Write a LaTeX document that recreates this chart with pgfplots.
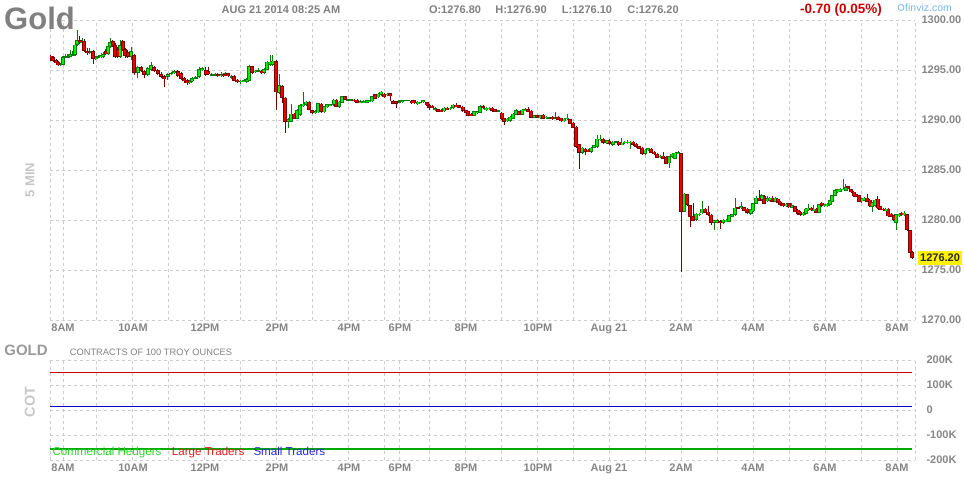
\documentclass[border=0pt]{standalone}
\usepackage{pgfplots}
\pgfplotsset{compat=1.18}
\usepackage{pgfplotstable}
\usepackage{fontspec}
\setmainfont{Liberation Sans}

\definecolor{gridc}{HTML}{CCCCCC}
\definecolor{labc}{HTML}{868686}
\definecolor{upfill}{HTML}{00EE00}
\definecolor{upline}{HTML}{0A7A0A}
\definecolor{dnfill}{HTML}{EE0000}
\definecolor{dnline}{HTML}{780000}
\definecolor{cotred}{HTML}{CC0000}
\definecolor{cotblue}{HTML}{0000CC}
\definecolor{cotgreen}{HTML}{00AA00}

% 5-minute candles, x = horizontal position on the chart
\pgfplotstableread{
x o h l c
50.7 1296.45 1296.55 1295.9 1296.2
53.3 1296.3 1296.4 1295.8 1295.9
56 1296.0 1296.1 1295.5 1295.7
58.3 1295.8 1295.9 1295.4 1295.5
60.7 1295.5 1295.7 1295.45 1295.6
62.7 1295.55 1296.4 1295.5 1296.3
65 1296.3 1296.6 1296.2 1296.35
67.7 1296.3 1296.6 1296.2 1296.4
70.3 1296.35 1297.0 1296.3 1296.6
72.7 1296.5 1296.9 1296.4 1296.6
75 1296.5 1297.6 1296.4 1297.55
77.3 1297.5 1299.0 1297.4 1298.0
79.7 1298.0 1298.4 1297.6 1297.8
82 1297.8 1298.2 1297.6 1297.9
84.3 1297.9 1298.1 1296.8 1296.9
87 1296.9 1297.2 1296.5 1296.7
89.3 1296.8 1297.2 1296.6 1296.9
93.3 1296.9 1297.0 1295.6 1296.1
95.7 1296.1 1296.4 1296.0 1296.3
98.3 1296.3 1296.5 1296.2 1296.4
101 1296.3 1296.7 1296.2 1296.5
103.3 1296.3 1296.8 1296.2 1296.6
105.7 1296.9 1297.1 1296.5 1296.6
108 1296.6 1297.5 1296.5 1297.4
110.3 1297.3 1298.2 1297.2 1297.8
112.7 1297.9 1298.0 1297.3 1297.4
115 1297.5 1297.7 1296.2 1296.3
117.7 1297.1 1297.3 1296.2 1296.3
120.3 1296.3 1298.0 1296.2 1297.5
122.7 1297.9 1298.0 1296.9 1297.0
125.3 1297.1 1297.2 1296.2 1296.4
127.7 1296.8 1297.0 1296.2 1296.3
131 1296.3 1297.3 1296.0 1296.9
134.3 1296.5 1296.6 1294.5 1294.7
137.7 1294.7 1295.4 1294.2 1295.3
141 1295.3 1295.4 1294.8 1294.9
144.3 1294.9 1295.0 1294.2 1294.5
147.7 1294.5 1295.3 1294.4 1295.2
151 1295.0 1295.8 1294.9 1295.5
154.3 1295.3 1295.4 1294.8 1294.9
157.7 1295.0 1295.1 1294.5 1294.6
161 1294.6 1294.8 1294.2 1294.3
164.3 1294.4 1294.5 1293.3 1294.1
167.7 1294.3 1294.7 1294.0 1294.6
171 1294.6 1294.8 1294.5 1294.7
174.3 1294.7 1295.0 1294.6 1294.9
177.7 1294.9 1295.0 1294.3 1294.4
181 1294.7 1294.8 1294.0 1294.1
184.3 1294.2 1294.3 1293.7 1293.9
187 1294.0 1294.1 1293.5 1293.7
189.7 1293.7 1294.0 1293.6 1293.9
192.3 1293.9 1294.3 1293.8 1294.2
195.7 1294.2 1294.4 1294.1 1294.3
199 1294.3 1295.3 1294.2 1295.1
202.3 1295.0 1295.3 1294.9 1295.2
205.7 1295.0 1295.3 1294.4 1294.5
208.3 1294.9 1295.3 1294.5 1294.6
211.7 1294.5 1294.7 1294.4 1294.6
215 1294.5 1294.7 1294.4 1294.6
217.7 1294.6 1294.7 1294.3 1294.4
221 1294.4 1294.8 1294.3 1294.6
223.7 1294.6 1294.7 1294.3 1294.4
225 1294.6 1294.8 1294.5 1294.7
228.3 1294.67 1294.7 1294.3 1294.35
231.7 1294.3 1294.5 1294.1 1294.4
234 1294.4 1294.5 1293.9 1293.95
237.3 1294.05 1294.1 1293.7 1293.8
240.7 1293.8 1294.0 1293.65 1293.95
244 1293.85 1294.1 1293.8 1294.0
246.7 1293.8 1294.2 1293.75 1294.1
249.3 1293.95 1295.5 1293.9 1295.4
252.3 1295.4 1295.45 1294.6 1294.75
255 1294.8 1295.0 1294.7 1294.95
258.3 1294.85 1295.2 1294.8 1294.95
261.7 1294.95 1295.0 1294.6 1294.7
264.3 1294.7 1295.2 1294.6 1295.1
267 1295.05 1295.9 1295.0 1295.85
270 1295.5 1296.5 1295.4 1295.85
272.7 1295.5 1296.5 1295.4 1295.95
276 1295.85 1296.0 1291.0 1292.75
279.3 1292.75 1294.6 1292.6 1293.5
282.3 1293.4 1293.5 1291.7 1292.25
285.3 1292.25 1292.3 1288.7 1289.8
288.3 1289.8 1290.2 1289.25 1290.1
291 1289.85 1291.65 1289.8 1290.65
294 1290.65 1290.7 1290.1 1290.15
297 1290.15 1291.1 1290.1 1291.0
300 1290.5 1291.6 1290.4 1291.5
303.3 1291.4 1292.85 1291.3 1291.65
306 1291.5 1291.9 1291.4 1291.85
309.3 1291.85 1291.9 1291.0 1291.05
312.3 1291.0 1291.05 1290.6 1290.7
315.3 1290.7 1291.0 1290.6 1290.9
318.3 1290.75 1291.7 1290.7 1291.65
321 1291.65 1291.7 1290.7 1290.8
324.3 1290.75 1291.4 1290.7 1291.35
327.3 1291.3 1291.65 1291.2 1291.6
330.3 1291.45 1291.65 1291.4 1291.6
333.7 1291.5 1292.1 1291.45 1292.05
336.3 1292.05 1292.1 1291.3 1291.35
339.3 1291.3 1291.9 1291.25 1291.85
342.3 1291.75 1292.45 1291.7 1292.4
345.3 1292.4 1292.45 1292.0 1292.05
348.3 1291.95 1292.1 1291.9 1292.05
351.3 1291.95 1292.1 1291.9 1292.05
354.3 1292.05 1292.1 1291.8 1291.9
357.3 1292.05 1292.1 1291.7 1291.75
360.3 1291.7 1291.95 1291.65 1291.9
363.7 1291.7 1291.95 1291.65 1291.9
366.7 1291.75 1292.05 1291.7 1292.0
369.3 1291.85 1292.05 1291.8 1292.0
372.3 1291.85 1292.4 1291.8 1292.35
375.3 1292.6 1292.65 1292.1 1292.15
378.3 1292.25 1292.7 1292.2 1292.65
381.3 1292.5 1292.9 1292.45 1292.85
384.3 1292.65 1292.7 1292.2 1292.25
387.3 1292.5 1292.7 1292.45 1292.65
390.3 1292.65 1292.7 1291.9 1292.35
393.3 1291.9 1291.95 1291.55 1291.6
396 1291.9 1291.95 1291.2 1291.6
398.7 1291.8 1291.9 1291.75 1291.85
400 1291.85 1292.0 1291.8 1291.95
402.3 1291.8 1292.05 1291.75 1292.0
405 1291.95 1292.05 1291.9 1292.0
408.3 1291.95 1292.05 1291.9 1292.0
411.7 1291.95 1292.0 1291.65 1291.7
414.3 1292.0 1292.05 1291.65 1291.7
417.7 1291.6 1291.9 1291.55 1291.85
420.3 1291.75 1291.85 1291.7 1291.8
423.3 1291.8 1292.05 1291.75 1292.0
426.7 1291.75 1291.8 1291.4 1291.45
429.3 1291.5 1291.55 1291.0 1291.25
432.3 1291.45 1291.5 1291.2 1291.25
435 1291.1 1291.3 1290.9 1291.15
438.3 1291.1 1291.15 1290.8 1290.85
441 1291.05 1291.1 1290.8 1290.85
444.3 1290.85 1291.3 1290.8 1291.25
447.3 1291.25 1291.3 1291.0 1291.05
450.3 1291.1 1291.3 1291.05 1291.25
453.3 1291.2 1291.6 1291.15 1291.55
456.3 1291.55 1291.75 1291.3 1291.35
459.3 1291.5 1291.55 1291.2 1291.25
462.7 1291.35 1291.4 1290.85 1290.9
465.7 1291.0 1291.05 1290.7 1290.75
468.3 1290.9 1290.95 1290.4 1290.45
471.3 1290.65 1290.7 1290.4 1290.45
474.3 1290.45 1290.95 1290.4 1290.9
477.3 1290.7 1290.95 1290.65 1290.9
480.3 1290.7 1291.45 1290.65 1291.4
483.3 1291.4 1291.45 1291.1 1291.15
486.3 1291.0 1291.35 1290.95 1291.25
489.3 1291.1 1291.3 1291.05 1291.25
492.3 1291.25 1291.3 1290.85 1290.9
495.3 1291.1 1291.15 1290.8 1290.85
498.3 1290.85 1291.0 1290.8 1290.95
501.7 1290.75 1290.8 1290.05 1290.1
504.3 1290.2 1290.25 1289.55 1289.8
507.3 1289.9 1290.2 1289.85 1290.15
510.3 1289.9 1290.4 1289.85 1290.35
513.3 1290.15 1290.7 1290.1 1290.65
516.3 1290.55 1291.1 1290.5 1291.0
519.3 1290.9 1290.95 1290.5 1290.55
522.3 1290.55 1291.1 1290.5 1291.05
525.3 1290.9 1291.15 1290.85 1291.1
528.3 1291.1 1291.35 1290.8 1290.85
531.3 1290.95 1291.0 1290.2 1290.25
534.3 1290.25 1290.55 1290.2 1290.5
537.3 1290.5 1290.55 1290.2 1290.25
540.3 1290.2 1290.55 1290.15 1290.5
543.3 1290.55 1290.6 1290.1 1290.15
546.3 1290.2 1290.4 1290.15 1290.35
549.3 1290.2 1290.35 1290.15 1290.3
552.3 1290.35 1290.4 1290.05 1290.1
555.3 1290.2 1290.8 1290.15 1290.3
558.3 1290.35 1290.4 1290.0 1290.05
561.3 1290.2 1290.25 1289.85 1289.9
564.3 1289.9 1290.2 1289.85 1290.15
567.3 1290.1 1290.6 1290.05 1290.25
570 1290.1 1290.15 1289.6 1289.65
573.3 1289.75 1289.8 1289.2 1289.25
576 1289.35 1289.4 1287.2 1287.3
579.3 1287.6 1287.65 1285.15 1286.7
582.3 1286.7 1287.3 1286.6 1287.25
585 1287.15 1287.2 1286.5 1286.85
588.3 1287.05 1287.1 1286.8 1286.85
591 1286.8 1287.3 1286.75 1287.25
594 1287.25 1287.55 1287.2 1287.5
597.3 1287.3 1288.5 1287.25 1288.15
600 1288.0 1288.5 1287.95 1288.15
603.3 1288.15 1288.2 1287.65 1287.7
606.7 1287.65 1288.0 1287.6 1287.95
609.3 1287.95 1288.15 1287.55 1287.6
612.7 1287.5 1287.9 1287.45 1287.85
615.7 1287.8 1287.95 1287.75 1287.9
618.7 1287.85 1287.9 1287.45 1287.5
621.7 1287.5 1288.15 1287.45 1287.75
624.7 1287.7 1287.9 1287.65 1287.85
627.7 1287.7 1288.05 1287.65 1287.85
630.7 1287.7 1287.9 1287.15 1287.85
633.3 1287.85 1287.9 1287.45 1287.5
636.3 1287.65 1287.7 1287.25 1287.3
639.3 1287.4 1287.45 1287.1 1287.15
642.3 1287.25 1287.3 1286.55 1286.6
645.3 1286.6 1287.1 1286.55 1287.05
648.3 1286.95 1287.2 1286.9 1287.15
651.3 1287.15 1287.2 1286.7 1286.75
654.3 1286.85 1286.9 1286.55 1286.6
657.3 1286.65 1286.7 1286.2 1286.25
660.3 1286.3 1286.5 1286.25 1286.45
663.3 1286.45 1286.8 1286.1 1286.15
666.3 1286.3 1286.35 1285.55 1285.6
669.3 1285.65 1286.4 1285.25 1286.35
672.3 1286.3 1286.7 1286.25 1286.65
675.3 1286.15 1286.8 1286.1 1286.75
678.3 1286.6 1286.85 1286.55 1286.8
681.3 1286.7 1286.75 1274.85 1280.85
684.3 1280.85 1282.7 1280.8 1282.65
687.3 1282.6 1282.65 1281.45 1281.5
690.3 1281.5 1281.55 1279.35 1280.3
693.3 1280.4 1281.65 1279.85 1279.9
696.3 1280.0 1280.7 1279.95 1280.65
699.3 1280.5 1280.7 1280.45 1280.65
702.3 1280.65 1281.9 1280.6 1281.15
705.3 1281.15 1281.2 1280.7 1280.75
708.3 1280.85 1281.4 1280.45 1280.5
711.3 1280.55 1280.6 1279.5 1279.7
714.3 1279.7 1280.05 1279.05 1280.0
717.3 1279.7 1280.05 1279.65 1280.0
720.3 1279.9 1279.95 1279.05 1279.7
723.3 1279.7 1280.1 1279.65 1280.05
726.3 1279.85 1280.1 1279.8 1280.05
729.3 1279.85 1280.55 1279.8 1280.5
732.3 1280.35 1280.65 1280.3 1280.6
735.3 1280.5 1282.25 1280.45 1281.25
738.3 1281.25 1281.3 1281.1 1281.15
741.3 1281.15 1281.8 1281.1 1281.35
744.3 1281.3 1281.35 1280.9 1280.95
747.3 1281.15 1281.2 1280.65 1280.7
750.7 1280.6 1281.15 1280.5 1281.1
753.3 1280.85 1281.7 1280.8 1281.65
756 1281.65 1282.4 1281.6 1282.25
759 1282.25 1283.0 1281.9 1281.95
761.7 1282.0 1282.6 1281.95 1282.5
764.3 1282.4 1282.45 1281.55 1281.6
767 1281.85 1282.4 1281.8 1282.15
769.7 1282.0 1282.3 1281.95 1282.25
772.3 1282.25 1282.4 1281.8 1281.85
775 1281.85 1282.3 1281.8 1282.25
777.7 1282.15 1282.2 1281.7 1281.75
780.3 1281.85 1281.9 1281.45 1281.5
783.3 1281.65 1281.7 1281.3 1281.35
786 1281.4 1281.7 1281.35 1281.65
788.7 1281.65 1281.7 1281.2 1281.25
791.7 1281.25 1281.75 1281.2 1281.5
794.7 1281.4 1281.45 1280.8 1280.85
797.7 1281.05 1281.1 1280.55 1280.6
800.3 1280.85 1280.9 1280.45 1280.5
803 1280.5 1280.8 1280.45 1280.75
805.7 1280.6 1281.2 1280.55 1281.15
808.3 1281.0 1281.6 1280.95 1281.25
811 1281.25 1281.3 1280.95 1281.0
813.7 1280.95 1281.5 1280.9 1281.15
816.3 1281.15 1281.2 1280.7 1280.75
819 1280.75 1281.65 1280.7 1281.6
821.7 1281.75 1281.8 1281.35 1281.4
824.3 1281.35 1281.6 1281.3 1281.55
827 1281.4 1281.7 1281.35 1281.65
829.7 1281.5 1282.05 1281.45 1282.0
832.3 1281.85 1282.55 1281.8 1282.5
835 1282.4 1283.05 1282.35 1283.0
837.7 1282.75 1283.1 1282.7 1283.05
840.3 1282.85 1283.2 1282.8 1283.15
843 1283.0 1284.05 1282.95 1283.15
845.7 1282.95 1283.6 1282.9 1283.3
848.3 1283.4 1283.45 1283.1 1283.15
851 1283.05 1283.1 1282.7 1282.75
853.7 1282.85 1282.9 1282.3 1282.35
856.3 1282.6 1282.65 1282.3 1282.35
859 1282.5 1282.55 1281.8 1281.85
861.7 1281.85 1282.2 1281.7 1282.15
864.3 1281.95 1282.3 1281.9 1282.25
867 1282.25 1282.65 1281.8 1281.85
869.7 1282.05 1282.1 1281.3 1281.35
872.3 1281.35 1281.8 1280.85 1281.75
875 1281.4 1282.1 1281.35 1282.05
877.7 1282.15 1282.4 1281.1 1281.15
880.3 1281.4 1281.45 1281.0 1281.05
883 1281.15 1281.2 1280.95 1281.0
885.7 1280.95 1281.2 1280.9 1281.15
888.3 1281.15 1281.25 1280.3 1280.35
891 1280.65 1280.7 1280.3 1280.35
893.7 1280.5 1280.55 1279.95 1280.05
896.3 1279.75 1280.65 1279.0 1280.6
899 1280.4 1280.7 1280.35 1280.65
901.7 1280.75 1280.8 1280.45 1280.5
904.3 1280.5 1280.9 1280.45 1280.75
907 1280.6 1280.65 1278.95 1279.0
909.7 1279.0 1279.05 1276.7 1276.75
912.3 1276.8 1276.9 1276.1 1276.2
}\gold

\pgfplotsset{
  chartgrid/.style={
    scale only axis, width=865pt,
    xmin=50, xmax=915,
    axis line style={draw=none},
    major tick length=0pt,
    xtick={50,63.3,96.7,132.7,168.7,204.7,240.7,276.7,312.7,348.7,384.7,399.7,429.7,465.7,501.7,537.7,573.3,609.3,645.3,681.3,717.3,753.3,789.3,825.3,861.3,897.3,915},
    xticklabels={},
    extra x ticks={63,133,205,277,349,400,466,538,609,681,753,825,897},
    extra x tick labels={8AM,10AM,12PM,2PM,4PM,6PM,8PM,10PM,Aug 21,2AM,4AM,6AM,8AM},
    extra x tick style={grid=none},
    grid=major,
    major grid style={gridc, dash pattern=on 3pt off 3pt, line width=0.8pt},
    tick label style={font=\fontsize{11}{11}\selectfont\bfseries, text=labc},
    yticklabel pos=right,
    yticklabel style={anchor=west, xshift=3pt},
    clip=true,
  },
  candle/.style 2 args={draw=none, mark=none, no markers,
    error bars/y dir=both, error bars/y explicit,
    error bars/error mark=none,
    error bars/error bar style={solid, line width=#2, draw=#1}},
}

\begin{document}
\begin{tikzpicture}
\useasboundingbox (0,0) rectangle (964pt,480pt);

\begin{axis}[chartgrid,
  at={(50pt,160pt)}, anchor=south west, height=300pt,
  ymin=1270, ymax=1300,
  ytick={1270,1275,1280,1285,1290,1295,1300},
  yticklabels={1270.00,1275.00,1280.00,1285.00,1290.00,1295.00,1300.00},
  extra y ticks={1276.2}, extra y tick labels={1276.20},
  extra y tick style={grid=none, yticklabel style={fill=yellow, text=black!85, inner xsep=2pt, inner ysep=3.5pt}},
]
% wicks
\addplot[candle={upline}{1pt}, restrict expr to domain={\thisrow{c}-\thisrow{o}}{0:100}]
  table[x=x, y expr={(\thisrow{h}+\thisrow{l})/2}, y error expr={(\thisrow{h}-\thisrow{l})/2}] {\gold};
\addplot[candle={dnline}{1pt}, restrict expr to domain={\thisrow{c}-\thisrow{o}}{-100:-0.001}]
  table[x=x, y expr={(\thisrow{h}+\thisrow{l})/2}, y error expr={(\thisrow{h}-\thisrow{l})/2}] {\gold};
% bodies: dark edge then bright core
\addplot[candle={upline}{3.8pt}, restrict expr to domain={\thisrow{c}-\thisrow{o}}{0:100}]
  table[x=x, y expr={(\thisrow{o}+\thisrow{c})/2}, y error expr={max(abs(\thisrow{c}-\thisrow{o})/2,0.07)}] {\gold};
\addplot[candle={dnline}{3.8pt}, restrict expr to domain={\thisrow{c}-\thisrow{o}}{-100:-0.001}]
  table[x=x, y expr={(\thisrow{o}+\thisrow{c})/2}, y error expr={max(abs(\thisrow{c}-\thisrow{o})/2,0.07)}] {\gold};
\addplot[candle={upfill}{1.9pt}, restrict expr to domain={\thisrow{c}-\thisrow{o}}{0.15:100}]
  table[x=x, y expr={(\thisrow{o}+\thisrow{c})/2}, y error expr={abs(\thisrow{c}-\thisrow{o})/2-0.08}] {\gold};
\addplot[candle={dnfill}{1.9pt}, restrict expr to domain={\thisrow{c}-\thisrow{o}}{-100:-0.15}]
  table[x=x, y expr={(\thisrow{o}+\thisrow{c})/2}, y error expr={abs(\thisrow{c}-\thisrow{o})/2-0.08}] {\gold};
\end{axis}

\begin{axis}[chartgrid,
  at={(50pt,20pt)}, anchor=south west, height=100pt,
  ymin=-200000, ymax=200000,
  ytick={-200000,-100000,0,100000,200000},
  yticklabels={-200K,-100K,0,100K,200K},
  scaled y ticks=false,
  yticklabel style={xshift=5pt},
]
\addplot[cotred, line width=1.1pt] coordinates {(50,150800) (912,150800)};
\addplot[cotblue, line width=1.1pt] coordinates {(50,14800) (912,14800)};
\addplot[cotgreen, line width=1.1pt] coordinates {(50,-156000) (912,-156000)};
\end{axis}

% header texts
\node[anchor=base west, inner sep=0, font=\fontsize{31}{31}\selectfont\bfseries, text=black!50] at (4pt,450pt) {Gold};
\node[inner sep=0, font=\fontsize{11}{11}\selectfont\bfseries, text=black!50] at (281pt,470.3pt) {AUG 21 2014 08:25 AM};
\node[inner sep=0, font=\fontsize{11}{11}\selectfont\bfseries, text=black!50] at (455pt,470.3pt) {O:1276.80};
\node[inner sep=0, font=\fontsize{11}{11}\selectfont\bfseries, text=black!50] at (521pt,470.3pt) {H:1276.90};
\node[inner sep=0, font=\fontsize{11}{11}\selectfont\bfseries, text=black!50] at (587pt,470.3pt) {L:1276.10};
\node[inner sep=0, font=\fontsize{11}{11}\selectfont\bfseries, text=black!50] at (653pt,470.3pt) {C:1276.20};
\node[inner sep=0, font=\fontsize{13.5}{13.5}\selectfont\bfseries, text=cotred] at (841pt,469.5pt) {-0.70 (0.05\%)};
\draw[color={rgb,255:red,120;green,185;blue,235}, line width=0.8pt] (901pt,472.5pt) circle (3pt);
\node[inner sep=0, font=\fontsize{10.5}{10.5}\selectfont, text={rgb,255:red,120;green,185;blue,235}] at (928.5pt,472.5pt) {finviz.com};
\node[rotate=90, inner sep=0, font=\fontsize{13}{13}\selectfont\bfseries, text=black!22] at (30pt,300pt) {5 MIN};

% COT panel texts
\node[inner sep=0, font=\fontsize{15}{15}\selectfont\bfseries, text=black!40] at (26pt,129.2pt) {GOLD};
\node[inner sep=0, font=\fontsize{9.3}{9.3}\selectfont, text=black!50] at (151pt,127.3pt) {CONTRACTS OF 100 TROY OUNCES};
\node[rotate=90, inner sep=0, font=\fontsize{14.5}{14.5}\selectfont\bfseries, text=black!22] at (30pt,78pt) {COT};
\node[anchor=base west, inner sep=0, font=\fontsize{11.6}{11.6}\selectfont, text={rgb,255:red,40;green,210;blue,40}] at (52.3pt,24.3pt) {Commercial Hedgers};
\node[anchor=base west, inner sep=0, font=\fontsize{11.6}{11.6}\selectfont, text={rgb,255:red,220;green,30;blue,30}] at (171.7pt,24.3pt) {Large Traders};
\node[anchor=base west, inner sep=0, font=\fontsize{11.6}{11.6}\selectfont, text={rgb,255:red,40;green,40;blue,210}] at (253.3pt,24.3pt) {Small Traders};
\end{tikzpicture}
\end{document}
